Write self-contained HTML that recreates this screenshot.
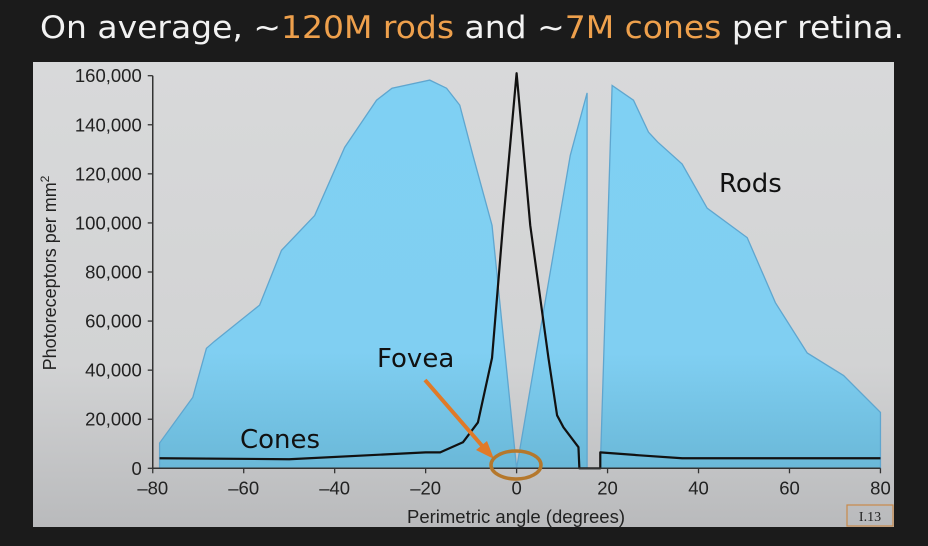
<!DOCTYPE html>
<html><head><meta charset="utf-8"><style>
html,body{margin:0;padding:0;background:#1b1b1b;width:928px;height:546px;overflow:hidden}
svg{display:block}
</style></head><body>
<svg id="chart" width="928" height="546" viewBox="0 0 928 546" xmlns="http://www.w3.org/2000/svg">
<defs>
<linearGradient id="bg" x1="0" y1="0" x2="0" y2="1"><stop offset="0" stop-color="#d8d9da"/><stop offset="0.65" stop-color="#d2d3d4"/><stop offset="1" stop-color="#b9babc"/></linearGradient>
<linearGradient id="rodfill" x1="0" y1="0" x2="0" y2="1"><stop offset="0" stop-color="#7fd0f3"/><stop offset="0.7" stop-color="#80cff2"/><stop offset="1" stop-color="#6ab8d8"/></linearGradient>
</defs>
<rect x="0" y="0" width="928" height="546" fill="#1b1b1b"/>
<text x="40" y="38" font-family="DejaVu Sans, sans-serif" font-size="31" fill="#f2f2f2" textLength="864" lengthAdjust="spacingAndGlyphs">On average, ~<tspan fill="#eea04c">120M rods</tspan> and ~<tspan fill="#eea04c">7M cones</tspan> per retina.</text>
<rect x="33" y="62" width="861" height="465" fill="url(#bg)"/>
<g id="plot"></g>
<text x="719" y="192" font-family="DejaVu Sans, sans-serif" font-size="26" fill="#111">Rods</text>
<text x="377" y="367" font-family="DejaVu Sans, sans-serif" font-size="26" fill="#111">Fovea</text>
<text x="240" y="448" font-family="DejaVu Sans, sans-serif" font-size="26" fill="#111">Cones</text>
<line x1="425" y1="380" x2="484" y2="448" stroke="#e07a28" stroke-width="4"/>
<polygon points="494,459 476,450 487,441" fill="#e07a28"/>
<ellipse cx="516" cy="465" rx="25" ry="14" fill="none" stroke="#b5782c" stroke-width="3.5"/>
<text transform="translate(56,273) rotate(-90)" text-anchor="middle" font-family="Liberation Sans, sans-serif" font-size="18" fill="#222">Photoreceptors per mm<tspan font-size="12" dy="-7">2</tspan></text>
<text x="516" y="523" text-anchor="middle" font-family="Liberation Sans, sans-serif" font-size="18.5" fill="#222">Perimetric angle (degrees)</text>
<rect x="847" y="505" width="46" height="21" fill="none" stroke="#c98a4a" stroke-width="1.2"/>
<text x="870" y="521" text-anchor="middle" font-family="Liberation Serif, serif" font-size="14" fill="#222">I.13</text>
</svg>
<script>
const rodAngles = [-78.5,-71.2,-68.2,-66.4,-56.5,-51.7,-44.4,-37.8,-30.8,-27.4,-19.1,-15.4,-12.5,-9.6,-5.4,0,11.8,15.5];
const rodValues = [10300,28900,48900,51800,66500,88800,103000,130800,150000,154900,158200,154900,148000,127500,99000,0,127500,153000];
const rodAnglesRight = [18.4,21,25.7,29,31,36.4,41.9,50.7,56.9,63.9,71.9,80];
const rodValuesRight = [0,156000,150000,137000,133000,124000,106000,94000,67500,47000,37800,22800];
const coneAngles = [-78.5,-50,-20,-16.8,-11.8,-8.5,-5.4,-3,0,3,7,8.9,10.3,13.6,13.8,18.4,18.4,27,36.4,80];
const coneValues = [4100,3700,6500,6500,10600,18700,45000,99000,161000,99000,45000,21600,16700,8600,0,0,6500,5300,4100,4100];
const yTicks = [0,20000,40000,60000,80000,100000,120000,140000,160000];
const xTicks = [-80,-60,-40,-20,0,20,40,60,80];

const NS='http://www.w3.org/2000/svg';
const X0=516.6, XS=(880.7-153)/160, Y0=468.3, YS=(468.3-75.7)/160000;
const sx=d=>X0+d*XS, sy=v=>Y0-v*YS;
const plot=document.getElementById('plot');
function mk(t,a){const e=document.createElementNS(NS,t);for(const k in a)e.setAttribute(k,a[k]);plot.appendChild(e);return e;}

let p1=`M${sx(rodAngles[0])},${sy(0)} `+rodAngles.map((a,i)=>`L${sx(a)},${sy(rodValues[i])}`).join(' ')+` L${sx(rodAngles[rodAngles.length-1])},${sy(0)} Z`;
const r1=mk('path',{d:p1,fill:'url(#rodfill)',stroke:'#5fa6cf','stroke-width':1.3});


let p2=rodAnglesRight.map((a,i)=>`${i?'L':'M'}${sx(a)},${sy(rodValuesRight[i])}`).join(' ')+` L${sx(rodAnglesRight[rodAnglesRight.length-1])},${sy(0)} Z`;
const r2=mk('path',{d:p2,fill:'url(#rodfill)',stroke:'#5fa6cf','stroke-width':1.3});



const c=mk('polyline',{points:coneAngles.map((a,i)=>`${sx(a)},${sy(coneValues[i])}`).join(' '),fill:'none',stroke:'#111','stroke-width':2.2,'stroke-linejoin':'round'});



const ya=mk('line',{x1:sx(-80),y1:sy(0),x2:sx(-80),y2:sy(160000),stroke:'#333','stroke-width':1.5});


const xa=mk('line',{x1:sx(-80),y1:sy(0),x2:sx(80),y2:sy(0),stroke:'#333','stroke-width':1.5});


yTicks.forEach(v=>{
  const t=mk('line',{x1:sx(-80)-5,y1:sy(v),x2:sx(-80),y2:sy(v),stroke:'#333','stroke-width':1.3});
  
  
  const l=mk('text',{x:sx(-80)-11,y:sy(v)+6.5,'text-anchor':'end','font-family':'Liberation Sans, sans-serif','font-size':18.5,fill:'#222'});
  l.textContent=v.toLocaleString('en-US');
  
  
});
xTicks.forEach(d=>{
  const t=mk('line',{x1:sx(d),y1:sy(0),x2:sx(d),y2:sy(0)+5,stroke:'#333','stroke-width':1.3});
  
  
  const l=mk('text',{x:sx(d),y:sy(0)+26,'text-anchor':'middle','font-family':'Liberation Sans, sans-serif','font-size':18.5,fill:'#222'});
  l.textContent=d<0?'\u2013'+(-d):String(d);
  
  
});
</script>
</body></html>
